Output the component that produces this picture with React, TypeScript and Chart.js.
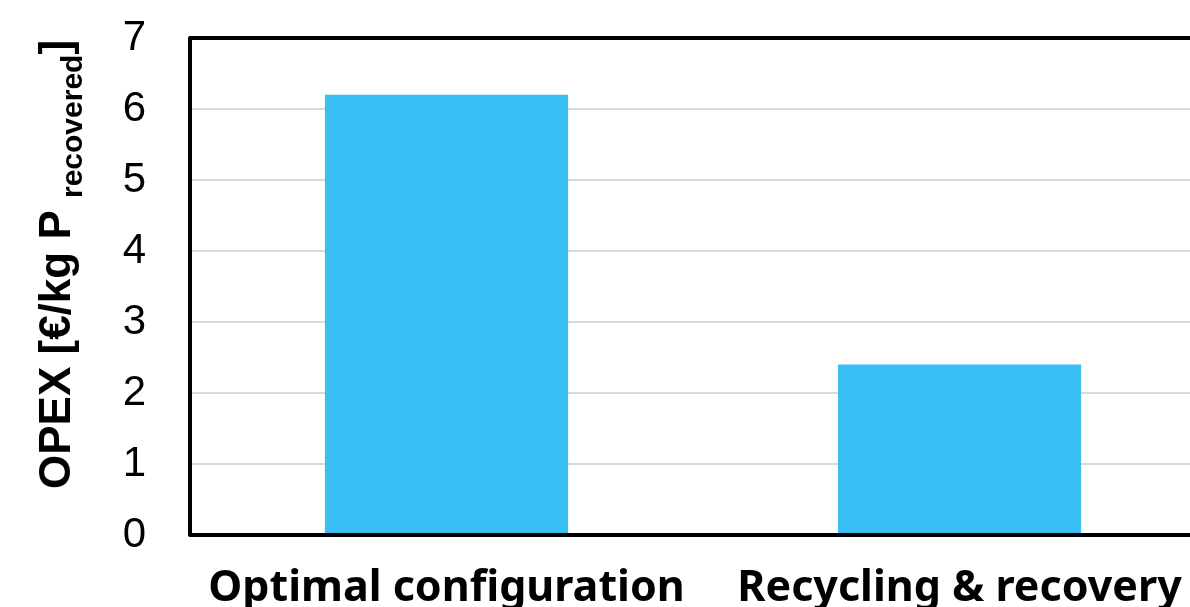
import React, { useEffect, useRef } from "react";
import { Chart, registerables } from "chart.js";

Chart.register(...registerables);

const categories = ["Optimal configuration", "Recycling & recovery"];
const opexValues = [6.2, 2.4];
const yTicks = [0, 1, 2, 3, 4, 5, 6, 7];
const yTitleMain = "OPEX [€/kg P ";
const yTitleSub = "recovered";
const yTitleEnd = "]";

const frame = {
  id: "frame",
  afterDatasetsDraw(chart: any) {
    const { ctx, chartArea } = chart;
    ctx.save();
    ctx.strokeStyle = "#000";
    ctx.lineWidth = 4;
    ctx.lineJoin = "round";
    ctx.strokeRect(chartArea.left, chartArea.top, chartArea.right - chartArea.left, chartArea.bottom - chartArea.top);
    ctx.restore();
  },
};

const yTitle = {
  id: "yTitle",
  afterDraw(chart: any) {
    const { ctx } = chart;
    ctx.save();
    ctx.translate(70, 489);
    ctx.rotate(-Math.PI / 2);
    ctx.fillStyle = "#000";
    ctx.textBaseline = "alphabetic";
    ctx.textAlign = "left";
    ctx.font = "bold 44px 'Liberation Sans', Arial, sans-serif";
    ctx.fillText(yTitleMain, 0, 0);
    let x = ctx.measureText(yTitleMain).width;
    ctx.font = "bold 30px 'Liberation Sans', Arial, sans-serif";
    ctx.fillText(yTitleSub, x, 12);
    x += ctx.measureText(yTitleSub).width;
    ctx.font = "bold 44px 'Liberation Sans', Arial, sans-serif";
    ctx.fillText(yTitleEnd, x, 0);
    ctx.restore();
  },
};

export default function App() {
  const ref = useRef<HTMLCanvasElement>(null);
  useEffect(() => {
    const chart = new Chart(ref.current!, {
      type: "bar",
      data: {
        labels: categories,
        datasets: [
          {
            data: opexValues,
            backgroundColor: "#38BFF4",
            borderWidth: 0,
            categoryPercentage: 1,
            barPercentage: 0.474,
          },
        ],
      },
      options: {
        animation: false,
        responsive: false,
        maintainAspectRatio: false,
        layout: { padding: { top: 38, right: 24, left: 0, bottom: 0 } },
        plugins: { legend: { display: false }, tooltip: { enabled: false } },
        scales: {
          x: {
            grid: { display: false, drawTicks: false },
            border: { display: false },
            ticks: {
              color: "#000",
              padding: 28,
              font: { family: "'Noto Sans'", weight: "bold", size: 43 },
              maxRotation: 0,
              autoSkip: false,
            },
            afterFit: (s: any) => {
              s.height = 640 - 535;
              s.paddingLeft = 0;
              s.paddingRight = 0;
            },
          },
          y: {
            min: 0,
            max: 7,
            afterBuildTicks: (s: any) => {
              s.ticks = yTicks.map((v) => ({ value: v }));
            },
            grid: { color: "#d9d9d9", lineWidth: 2, drawTicks: false },
            border: { display: false },
            ticks: {
              color: "#000",
              padding: 44,
              font: { family: "'Liberation Sans'", size: 42 },
            },
            afterFit: (s: any) => {
              s.width = 190;
              s.paddingTop = 0;
              s.paddingBottom = 0;
            },
          },
        },
      },
      plugins: [frame, yTitle],
    });
    return () => chart.destroy();
  }, []);
  return (
    <div style={{ position: "fixed", left: 0, top: 0, width: 1190, height: 607, overflow: "hidden", background: "#fff" }}>
      <canvas ref={ref} width={1240} height={640} style={{ display: "block" }} />
    </div>
  );
}
